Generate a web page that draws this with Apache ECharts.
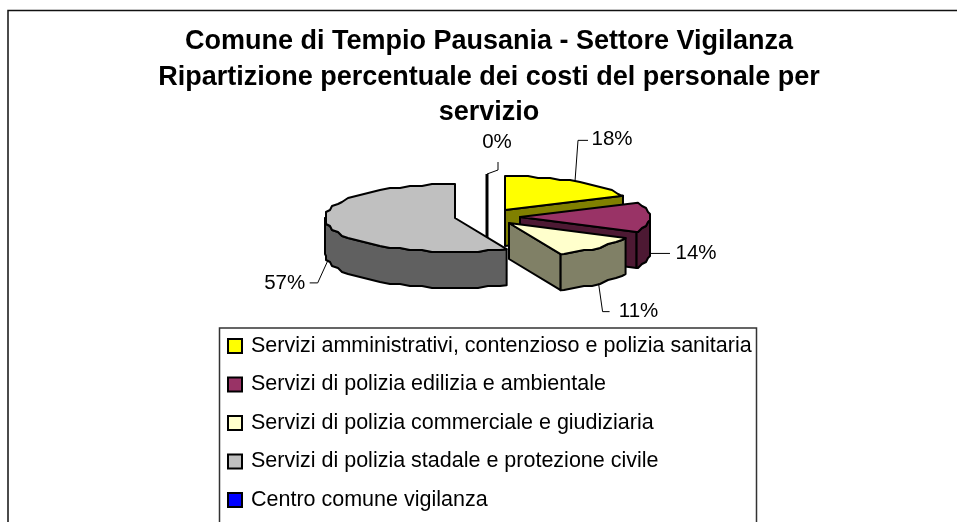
<!DOCTYPE html>
<html><head><meta charset="utf-8">
<style>html,body{margin:0;padding:0;background:#fff}#c{width:957px;height:522px}</style>
<script src="https://cdn.jsdelivr.net/npm/echarts@6/dist/echarts.min.js"></script>
</head><body><div id="c"></div>
<script>
const categories = [
  "Servizi amministrativi, contenzioso e polizia sanitaria",
  "Servizi di polizia edilizia e ambientale",
  "Servizi di polizia commerciale e giudiziaria",
  "Servizi di polizia stadale e protezione civile",
  "Centro comune vigilanza"
];
const percentages = [18.1, 14.2, 11.2, 56.5, 0];
const titleLines = [
  "Comune di Tempio Pausania - Settore Vigilanza",
  "Ripartizione percentuale dei costi del personale per",
  "servizio"
];

// styling and layout
const topColors  = ["#ffff00", "#993366", "#ffffcc", "#c0c0c0", "#0000ff"];
const sideColors = ["#808000", "#4d1933", "#808066", "#606060", "#000080"];
const explodedCenters = [[505,210],[520,217],[509,223],[455,218],[487,208]];
const drawOrder = [3,4,5,2,1];
const leaderBends = [
  [[3,-41],[13,-41]],
  [[20,0]],
  [[4,28],[11,28]],
  [[-10,22],[-18,22]],
  [[11,-4],[11,-12]]
];
const labelOffsets = [[37,-42],[46,0],[40,28],[-43,22],[10,-32]];
const RX = 130, RY = 34, DEPTH = 36, FONT = 'Liberation Sans, Arial, sans-serif';

const rimPoint = (c, deg) => {
  const a = deg * Math.PI / 180;
  return [c[0] + RX * Math.sin(a), c[1] - RY * Math.cos(a)];
};
// stepped outline, like the low-resolution polygons of the original renderer
const jag = p => [Math.round(p[0] / 2) * 2, Math.round(p[1] / 2) * 2];
function arc(c, from, to) {
  const pts = [rimPoint(c, from)];
  for (let d = Math.ceil(from / 5) * 5; d < to; d += 5) if (d > from) pts.push(jag(rimPoint(c, d)));
  pts.push(rimPoint(c, to));
  return pts;
}
const down = p => [p[0], p[1] + DEPTH];
const stroke = {stroke:'#000', lineWidth:2, lineJoin:'round'};

function renderSlice(params, api) {
  const i = params.seriesIndex;
  const v = api.value(0), startPct = api.value(1);
  const a0 = startPct * 3.6, a1 = (startPct + v) * 3.6;
  const c = explodedCenters[i];
  const kids = [];
  const poly = (points, fill) => kids.push({type:'polygon', shape:{points}, style:{fill, ...stroke}});
  if (v === 0) {
    kids.push({type:'polyline', shape:{points:[rimPoint(c,a1), down(c)]}, style:{fill:'none', stroke:'#000', lineWidth:3}});
  } else {
    // end face looking at the viewer
    if (a1 < 180) {
      const e = rimPoint(c, a1);
      poly([c, e, down(e), down(c)], sideColors[i]);
    }
    // visible part of the rim
    const r0 = Math.max(a0, 90), r1 = Math.min(a1, 270);
    if (r1 > r0) {
      const top = arc(c, r0, r1);
      poly(top.concat(top.slice().reverse().map(down)), sideColors[i]);
    }
    poly([c].concat(arc(c, a0, a1)), topColors[i]);
  }
  // leader line and percentage label
  const mid = (a0 + a1) / 2;
  let s = rimPoint(c, mid);
  if (mid >= 80 && mid <= 280) s = down(s);
  const linePts = [s].concat(leaderBends[i].map(b => [s[0] + b[0], s[1] + b[1]]));
  kids.push({type:'polyline', shape:{points:linePts}, style:{fill:'none', stroke:'#000', lineWidth:1}});
  const l = labelOffsets[i];
  kids.push({type:'text', style:{x:s[0]+l[0], y:s[1]+l[1], text:Math.round(v)+'%', fill:'#000',
    font:'20.5px '+FONT, align:'center', verticalAlign:'middle'}});
  return {type:'group', children:kids};
}

let cum = 0;
const series = categories.map((name, i) => {
  const row = [percentages[i], cum];
  cum += percentages[i];
  return {
    type:'custom', name, coordinateSystem:'none', renderItem:renderSlice,
    data:[row], z:drawOrder[i], silent:true, clip:false,
    itemStyle:{color:topColors[i]}, animation:false
  };
});

const chart = echarts.init(document.getElementById('c'), null, {renderer:'canvas'});
chart.setOption({
  animation:false,
  backgroundColor:'#fff',
  title:{
    text:titleLines.join('\n'), left:489, top:24, textAlign:'center', padding:0,
    textStyle:{fontFamily:FONT, fontWeight:'bold', fontSize:27, lineHeight:35.5, color:'#000'}
  },
  legend:{
    orient:'vertical', left:227, top:335, padding:0, itemGap:16.5,
    itemWidth:14, itemHeight:14, icon:'rect', selectedMode:false,
    textStyle:{fontFamily:FONT, fontSize:21.5, color:'#000', padding:[0,0,4,4]},
    data:categories.map((name,i)=>({name, icon:'rect',
      itemStyle:{color:topColors[i], borderColor:'#000', borderWidth:2}}))
  },
  graphic:[
    {type:'polyline', silent:true, shape:{points:[[8,522],[8,10.5],[957,10.5]]},
      style:{fill:'none', stroke:'#111', lineWidth:1.5}},
    {type:'polyline', silent:true, shape:{points:[[219.5,522],[219.5,328],[756.5,328],[756.5,522]]},
      style:{fill:'none', stroke:'#333', lineWidth:1.5}}
  ],
  series
});
</script></body></html>
